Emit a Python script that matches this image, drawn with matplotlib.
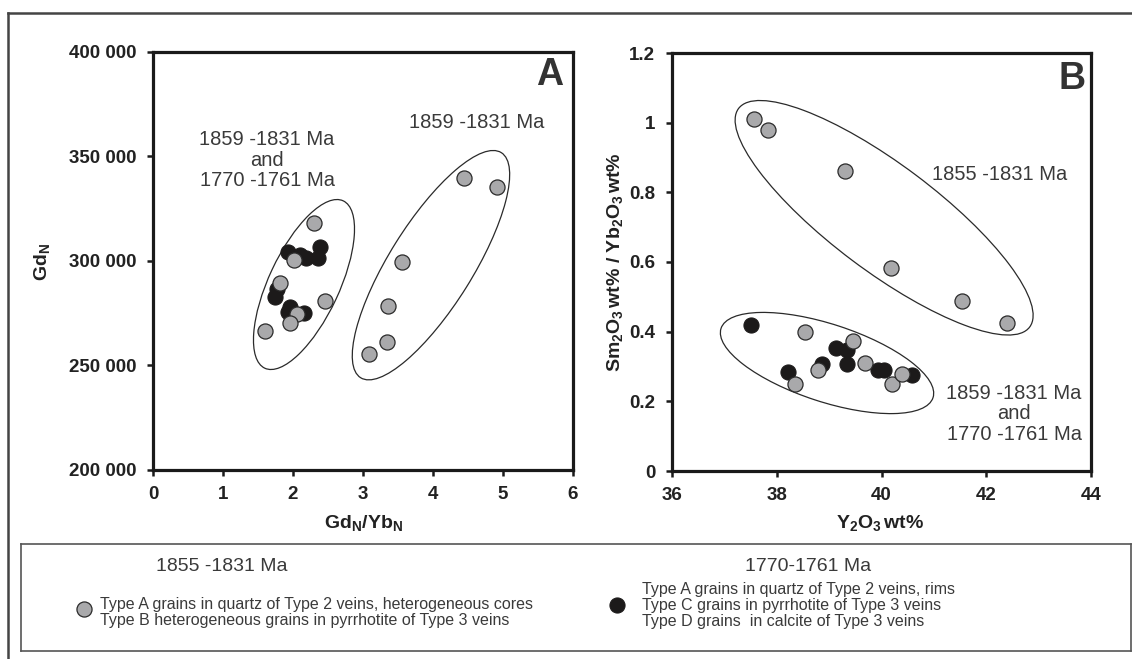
import matplotlib
matplotlib.use("Agg")
import matplotlib.pyplot as plt
import matplotlib.transforms as mtransforms
from matplotlib.patches import Ellipse
from matplotlib.lines import Line2D
from matplotlib.ticker import FuncFormatter

# ---------------- data ----------------
# Panel A: Gd_N/Yb_N vs Gd_N
a_gray_x = [2.30, 4.44, 4.91, 3.55, 3.35, 2.46, 2.01, 1.82, 2.06, 1.96, 1.60, 3.34, 3.09]
a_gray_y = [318000, 339600, 335500, 299700, 278600, 281000, 300500, 289600, 274600, 270500, 266500, 261400, 255500]
a_black_x = [2.39, 1.93, 2.10, 2.19, 2.36, 1.74, 1.77, 1.95, 1.93, 2.16]
a_black_y = [306900, 304200, 302900, 301300, 301300, 282900, 286500, 278100, 275700, 275000]

# Panel B: Y2O3 wt% vs Sm2O3/Yb2O3
b_gray_x = [37.57, 37.84, 39.31, 40.19, 41.53, 42.39, 38.54, 39.46, 39.68, 38.78, 38.35, 40.21, 40.40]
b_gray_y = [1.011, 0.978, 0.860, 0.584, 0.489, 0.426, 0.400, 0.374, 0.311, 0.290, 0.250, 0.249, 0.278]
b_black_x = [37.50, 39.13, 39.35, 39.35, 38.87, 38.22, 39.94, 40.05, 40.59]
b_black_y = [0.420, 0.354, 0.348, 0.307, 0.307, 0.285, 0.290, 0.290, 0.276]

a_xticks = [0, 1, 2, 3, 4, 5, 6]
a_yticks = [200000, 250000, 300000, 350000, 400000]
b_xticks = [36, 38, 40, 42, 44]
b_yticks = [0, 0.2, 0.4, 0.6, 0.8, 1.0, 1.2]

label_old = "1859 -1831 Ma"
label_both = "1859 -1831 Ma\nand\n1770 -1761 Ma"
label_b_old = "1855 -1831 Ma"
legend_head_gray = "1855 -1831 Ma"
legend_head_black = "1770-1761 Ma"
legend_gray_lines = ["Type A grains in quartz of Type 2 veins, heterogeneous cores",
                     "Type B heterogeneous grains in pyrrhotite of Type 3 veins"]
legend_black_lines = ["Type A grains in quartz of Type 2 veins, rims",
                      "Type C grains in pyrrhotite of Type 3 veins",
                      "Type D grains  in calcite of Type 3 veins"]

# ---------------- style ----------------
plt.rcParams['font.family'] = ['Liberation Sans', 'DejaVu Sans']
plt.rcParams['mathtext.fontset'] = 'custom'
plt.rcParams['mathtext.rm'] = 'Liberation Sans'
plt.rcParams['mathtext.bf'] = 'Liberation Sans:bold'
plt.rcParams['mathtext.it'] = 'Liberation Sans:italic'

W, H = 1132, 659
fig = plt.figure(figsize=(W / 100, H / 100), dpi=100)
fig.patch.set_facecolor('white')

def fx(px):
    return px / W

def fy(py):
    return (H - py) / H

GRAY = '#a9a9ab'
BLACK = '#1c1a1a'
EDGE = '#2a2a2a'
TXT = '#3a3a3a'
MS = 118

def style_axes(ax):
    for s in ax.spines.values():
        s.set_linewidth(2.3)
        s.set_color('#1a1a1a')
    ax.tick_params(direction='out', length=4.5, width=1.8, color='#1a1a1a',
                   labelsize=13.5)
    ax.tick_params(axis='y', pad=7.5)
    ax.tick_params(axis='x', pad=7)
    for lab in ax.get_xticklabels() + ax.get_yticklabels():
        lab.set_fontweight('bold')
        lab.set_color('#222222')

def add_ellipse(ax, cx, cy, a_px, b_px, ang):
    tr = fig.dpi_scale_trans + mtransforms.ScaledTranslation(cx, cy, ax.transData)
    e = Ellipse((0, 0), 2 * a_px / 100, 2 * b_px / 100, angle=ang, transform=tr,
                fill=False, edgecolor='#2a2a2a', linewidth=0.9, zorder=2)
    ax.add_patch(e)

# ---------------- panel A ----------------
axA = fig.add_axes([fx(153), fy(470), fx(573) - fx(153), fy(52) - fy(470)])
axA.set_xlim(0, 6)
axA.set_ylim(200000, 400000)
axA.set_xticks(a_xticks)
axA.set_yticks(a_yticks)
axA.yaxis.set_major_formatter(FuncFormatter(lambda v, p: f"{int(v):,}".replace(",", " ")))
axA.scatter(a_black_x, a_black_y, s=MS, c=BLACK, edgecolors=BLACK, linewidths=0.8, zorder=3)
axA.scatter(a_gray_x, a_gray_y, s=MS, c=GRAY, edgecolors=EDGE, linewidths=0.9, zorder=4)
add_ellipse(axA, 2.157, 288750, 92.4, 35.2, 64.9)
add_ellipse(axA, 3.971, 298000, 132.7, 41.7, 58.0)
axA.text(5.66, 389000, "A", fontsize=27, fontweight='bold', color='#333333', ha='center', va='center')
axA.text(4.63, 366500, label_old, fontsize=14.5, color=TXT, ha='center', va='center')
axA.text(1.63, 348300, label_both, fontsize=14.5, color=TXT, ha='center', va='center', linespacing=1.1)
style_axes(axA)

# ---------------- panel B ----------------
axB = fig.add_axes([fx(672), fy(471), fx(1091) - fx(672), fy(53) - fy(471)])
axB.set_xlim(36, 44)
axB.set_ylim(0, 1.2)
axB.set_xticks(b_xticks)
axB.set_yticks(b_yticks)
axB.yaxis.set_major_formatter(FuncFormatter(lambda v, p: f"{v:g}"))
axB.scatter(b_black_x, b_black_y, s=MS, c=BLACK, edgecolors=BLACK, linewidths=0.8, zorder=3)
axB.scatter(b_gray_x, b_gray_y, s=MS, c=GRAY, edgecolors=EDGE, linewidths=0.9, zorder=4)
add_ellipse(axB, 40.05, 0.727, 182, 53.2, -36.9)
add_ellipse(axB, 38.96, 0.310, 111.5, 38.8, -18.1)
axB.text(43.63, 1.124, "B", fontsize=27, fontweight='bold', color='#333333', ha='center', va='center')
axB.text(42.26, 0.851, label_b_old, fontsize=14.5, color=TXT, ha='center', va='center')
axB.text(42.53, 0.164, label_both, fontsize=14.5, color=TXT, ha='center', va='center', linespacing=1.1)
style_axes(axB)

# ---------------- axis labels ----------------
fig.text(fx(363), fy(523), r'$\mathbf{Gd_N/Yb_N}$', fontsize=14, color='#222222', ha='center', va='center')
fig.text(fx(880), fy(523), r'$\mathbf{Y_2O_3\,wt\%}$', fontsize=14, color='#222222', ha='center', va='center')
fig.text(fx(42), fy(262), r'$\mathbf{Gd_N}$', fontsize=14, color='#222222', ha='center', va='center', rotation=90)
fig.text(fx(615), fy(262), r'$\mathbf{Sm_2O_3\,wt\%\ /\ Yb_2O_3\,wt\%}$', fontsize=14, color='#222222',
         ha='center', va='center', rotation=90)

# ---------------- outer frame ----------------
fig.add_artist(Line2D([fx(8), fx(8)], [0, fy(13)], color='#444444', linewidth=1.8, transform=fig.transFigure))
fig.add_artist(Line2D([fx(8), 1.0], [fy(13), fy(13)], color='#444444', linewidth=1.8, transform=fig.transFigure))

# ---------------- legend box ----------------
lax = fig.add_axes([fx(21), fy(651), fx(1131) - fx(21), fy(544) - fy(651)])
lax.set_xlim(0, 1)
lax.set_ylim(0, 1)
lax.set_xticks([])
lax.set_yticks([])
for s in lax.spines.values():
    s.set_linewidth(1.2)
    s.set_color('#555555')
LF = ['Liberation Sans Narrow', 'Liberation Sans', 'DejaVu Sans']
lax.text(0.181, 0.794, legend_head_gray, fontsize=14, family=LF, color=TXT, ha='center', va='center')
lax.text(0.709, 0.794, legend_head_black, fontsize=14, family=LF, color=TXT, ha='center', va='center')
lax.scatter([0.0568], [0.393], s=MS, c=GRAY, edgecolors=EDGE, linewidths=0.9, clip_on=False)
lax.scatter([0.5369], [0.430], s=MS, c=BLACK, edgecolors=BLACK, linewidths=0.8, clip_on=False)
for i, line in enumerate(legend_gray_lines):
    lax.text(0.0712, 0.439 - i * 0.15, line, fontsize=11.5, family=LF, color=TXT, ha='left', va='center')
for i, line in enumerate(legend_black_lines):
    lax.text(0.5595, 0.579 - i * 0.15, line, fontsize=11.5, family=LF, color=TXT, ha='left', va='center')

fig.savefig('out.png', dpi=100, facecolor='white')
